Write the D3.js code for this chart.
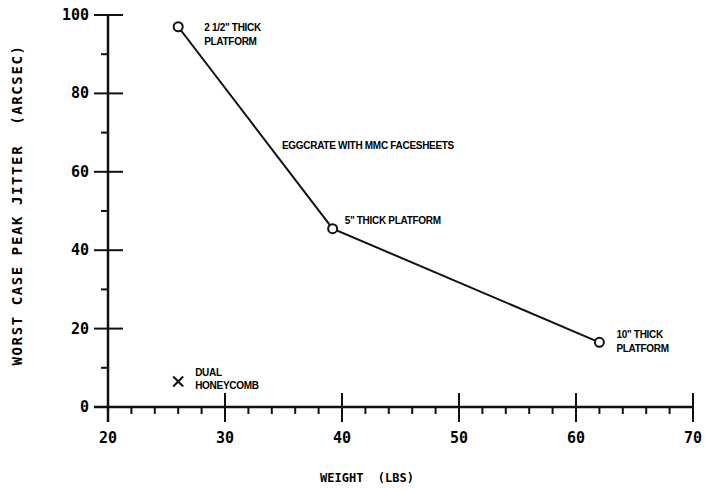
<!DOCTYPE html>
<html>
<head>
<meta charset="utf-8">
<script src="https://cdn.jsdelivr.net/npm/d3@7"></script>
<style>
  body { margin: 0; background: #fff; }
  .tick-label { font-family: "DejaVu Sans Mono", monospace; font-weight: bold; font-size: 15px; }
  .axis-title { font-family: "DejaVu Sans Mono", monospace; font-weight: bold; }
  .note { font-family: "Liberation Sans", Arial, sans-serif; font-weight: bold; font-size: 10px; letter-spacing: -0.3px; }
</style>
</head>
<body>
<svg id="chart" width="705" height="489"></svg>
<script>
// platform points (eggcrate with MMC facesheets)
const weights = [26, 39.2, 62]
const jitter = [97, 45.5, 16.5]
const pointNotes = [["2 1/2\" THICK", "PLATFORM"], ["5\" THICK PLATFORM"], ["10\" THICK", "PLATFORM"]]

// dual honeycomb
const dualWeight = [26]
const dualJitter = [6.5]
const dualNote = ["DUAL", "HONEYCOMB"]

const xTicks = [20, 30, 40, 50, 60, 70]
const yTicks = [0, 20, 40, 60, 80, 100]
const xMinor = d3.range(22, 70, 2).filter(d => d % 10 !== 0)
const yMinor = [10, 30, 50, 70, 90]

let svg = d3.select("#chart")

let x = d3.scaleLinear().domain([20, 70]).range([108, 693])
let y = d3.scaleLinear().domain([0, 100]).range([407, 15])

let axisColor = "#111"

// y axis
svg.append("line")
  .attr("x1", x(20)).attr("x2", x(20))
  .attr("y1", y(100)).attr("y2", y(0) + 15)
  .style("stroke", axisColor).style("stroke-width", 2.5)

svg.selectAll(".ymaj")
  .data(yTicks)
  .join("line")
  .attr("x1", x(20) - 14).attr("x2", x(20) + 15)
  .attr("y1", d => y(d)).attr("y2", d => y(d))
  .style("stroke", axisColor).style("stroke-width", 2)

svg.selectAll(".ymin")
  .data(yMinor)
  .join("line")
  .attr("x1", x(20) - 7).attr("x2", x(20))
  .attr("y1", d => y(d)).attr("y2", d => y(d))
  .style("stroke", axisColor).style("stroke-width", 2)

svg.selectAll(".ylab")
  .data(yTicks)
  .join("text")
  .classed("tick-label", true)
  .attr("x", x(20) - 19)
  .attr("y", d => y(d) + 5)
  .attr("text-anchor", "end")
  .text(d => d)

// x axis
svg.append("line")
  .attr("x1", x(20) - 14).attr("x2", x(70))
  .attr("y1", y(0)).attr("y2", y(0))
  .style("stroke", axisColor).style("stroke-width", 2.5)

svg.selectAll(".xmaj")
  .data(xTicks.slice(1))
  .join("line")
  .attr("x1", d => x(d)).attr("x2", d => x(d))
  .attr("y1", y(0) - 14).attr("y2", y(0) + 15)
  .style("stroke", axisColor).style("stroke-width", 2)

svg.selectAll(".xmin")
  .data(xMinor)
  .join("line")
  .attr("x1", d => x(d)).attr("x2", d => x(d))
  .attr("y1", y(0)).attr("y2", y(0) + 7)
  .style("stroke", axisColor).style("stroke-width", 2)

svg.selectAll(".xlab")
  .data(xTicks)
  .join("text")
  .classed("tick-label", true)
  .attr("x", d => x(d))
  .attr("y", y(0) + 36)
  .attr("text-anchor", "middle")
  .text(d => d)

// axis titles
svg.append("text")
  .classed("axis-title", true)
  .attr("transform", "translate(22,205) rotate(-90)")
  .attr("text-anchor", "middle")
  .attr("xml:space", "preserve")
  .style("font-size", "14px")
  .style("letter-spacing", "1.6px")
  .text("WORST CASE PEAK JITTER  (ARCSEC)")

svg.append("text")
  .classed("axis-title", true)
  .attr("x", 367).attr("y", 482)
  .attr("text-anchor", "middle")
  .attr("xml:space", "preserve")
  .style("font-size", "12px")
  .style("letter-spacing", "0px")
  .text("WEIGHT  (LBS)")

// line + circles
let pts = weights.map((w, i) => [w, jitter[i]])
svg.append("path")
  .datum(pts)
  .attr("d", d3.line().x(d => x(d[0])).y(d => y(d[1])))
  .style("fill", "none").style("stroke", axisColor).style("stroke-width", 2)

svg.selectAll(".pt")
  .data(pts)
  .join("circle")
  .attr("cx", d => x(d[0])).attr("cy", d => y(d[1]))
  .attr("r", 4.5)
  .style("fill", "#fff").style("stroke", axisColor).style("stroke-width", 2)

// point notes
let noteOffsets = [[26, 4], [12, -5], [17, -4]]
pts.forEach((p, i) => {
  let t = svg.append("text").classed("note", true)
    .attr("x", x(p[0]) + noteOffsets[i][0])
    .attr("y", y(p[1]) + noteOffsets[i][1])
  pointNotes[i].forEach((line, j) => {
    t.append("tspan").attr("x", x(p[0]) + noteOffsets[i][0]).attr("dy", j === 0 ? 0 : 14).text(line)
  })
})

svg.append("text").classed("note", true)
  .attr("x", 282).attr("y", 149)
  .text("EGGCRATE WITH MMC FACESHEETS")

// dual honeycomb X marker
let dx = x(dualWeight[0]), dy = y(dualJitter[0])
svg.append("path")
  .attr("d", `M${dx - 5},${dy - 5}L${dx + 5},${dy + 5}M${dx - 5},${dy + 5}L${dx + 5},${dy - 5}`)
  .style("stroke", axisColor).style("stroke-width", 2)

let dt = svg.append("text").classed("note", true).attr("x", dx + 17).attr("y", dy - 6)
dualNote.forEach((line, j) => {
  dt.append("tspan").attr("x", dx + 17).attr("dy", j === 0 ? 0 : 13).text(line)
})
</script>
</body>
</html>
